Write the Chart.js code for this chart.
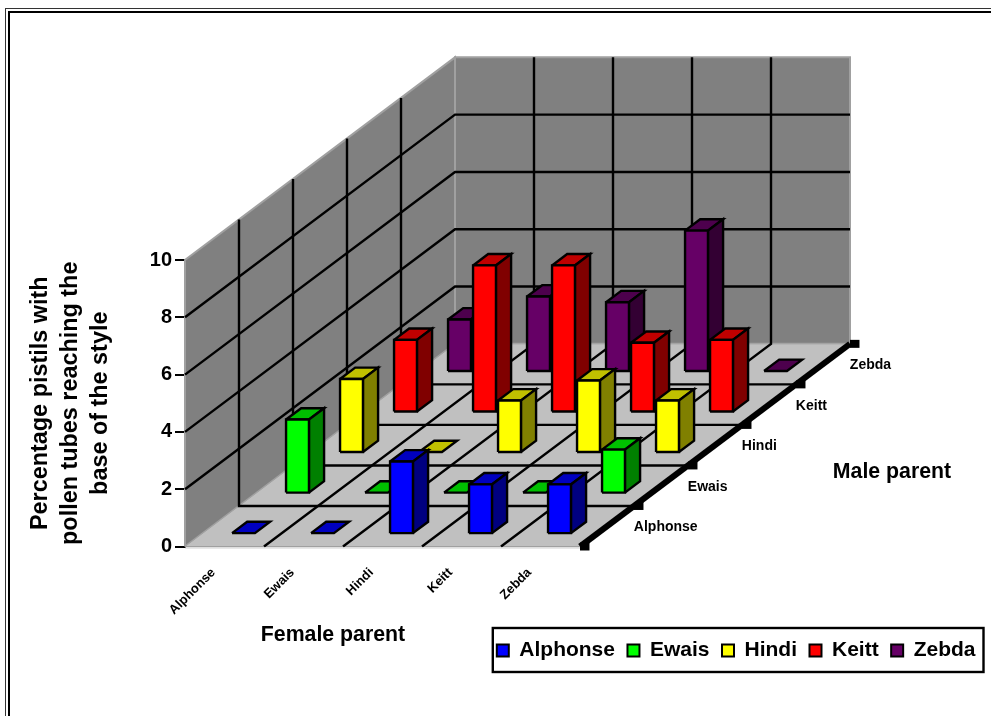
<!DOCTYPE html>
<html>
<head>
<meta charset="utf-8">
<title>Pollen tubes</title>
<script src="https://cdn.jsdelivr.net/npm/chart.js@4"></script>
<style>
html, body { margin: 0; padding: 0; background: #fff; overflow: hidden; }
canvas { display: block; }
</style>
</head>
<body>
<canvas id="chart" width="991" height="716"></canvas>
<script>
// values, one array per male parent, in female parent order
const femaleParents = ["Alphonse", "Ewais", "Hindi", "Keitt", "Zebda"];
const maleParents = ["Alphonse", "Ewais", "Hindi", "Keitt", "Zebda"];
const alphonseValues = [0, 0, 2.5, 1.7, 1.7];
const ewaisValues = [2.55, 0, 0, 0, 1.5];
const hindiValues = [2.55, 0, 1.8, 2.5, 1.8];
const keittValues = [2.5, 5.1, 5.1, 2.4, 2.5];
const zebdaValues = [1.8, 2.6, 2.4, 4.9, 0];
const maleValues = [alphonseValues, ewaisValues, hindiValues, keittValues, zebdaValues];
const yTickStep = 2;
const yMax = 10;

const frontColors = ['#0000FF', '#00FF00', '#FFFF00', '#FF0000', '#660066'];
const topColors = ['#0000C0', '#00C000', '#C0C000', '#C00000', '#4D004D'];
const sideColors = ['#000080', '#008000', '#808000', '#800000', '#330033'];

// oblique projection: one female step = 1 on x, one male step shifts x and y by these
const depthX = 54 / 79;
const depthY = 40.6 / 28.7;
const barLeft = 0.37, barWidth = 0.29;
const barFront = 0.33, barDepth = 0.28;
const xMax = 803 / 79;

function project(f, m, v) {
    return { x: f + m * depthX, y: v + m * depthY };
}

function shape(points, fillColor, lineColor, lineWidth) {
    return {
        data: points,
        showLine: true,
        fill: false,
        shapeFill: fillColor,
        borderColor: lineColor,
        borderWidth: lineWidth,
        pointRadius: 0,
        borderJoinStyle: 'miter',
        clip: false
    };
}

function closed(points, fillColor, lineColor, lineWidth) {
    return shape(points.concat([points[0]]), fillColor, lineColor, lineWidth);
}

function buildDatasets() {
    var out = [];
    var nF = femaleParents.length, nM = maleParents.length;

    // walls and floor
    out.push(closed([project(0, 0, 0), project(0, nM, 0), project(0, nM, yMax), project(0, 0, yMax)], '#808080', '#A0A0A0', 2));
    out.push(closed([project(0, nM, 0), project(nF, nM, 0), project(nF, nM, yMax), project(0, nM, yMax)], '#808080', '#A0A0A0', 2));
    out.push(closed([project(0, 0, 0), project(nF, 0, 0), project(nF, nM, 0), project(0, nM, 0)], '#C0C0C0', '#A0A0A0', 1));

    // grid lines
    for (var v = yTickStep; v < yMax; v += yTickStep) {
        out.push(shape([project(0, 0, v), project(0, nM, v), project(nF, nM, v)], null, '#000', 2.4));
    }
    for (var m = 1; m < nM; m++) {
        out.push(shape([project(0, m, yMax), project(0, m, 0), project(nF, m, 0)], null, '#000', 2.4));
    }
    for (var f = 1; f < nF; f++) {
        out.push(shape([project(f, 0, 0), project(f, nM, 0), project(f, nM, yMax)], null, '#000', 2.4));
    }

    // thick male axis with its tick blocks, pale female axis
    out.push(shape([project(nF, 0, 0), project(nF, nM, 0)], null, '#000', 6));
    for (var t = 0; t <= nM; t++) {
        var p = project(nF, t, 0);
        out.push(shape([p, { x: p.x + 0.12, y: p.y }], null, '#000', 8));
    }
    out.push(shape([project(0, 0, -0.05), project(nF, 0, -0.05)], null, '#C8C8C8', 1));

    // bars, back row first
    for (var j = nM - 1; j >= 0; j--) {
        for (var i = 0; i < nF; i++) {
            var val = maleValues[j][i];
            var x0 = i + barLeft, x1 = x0 + barWidth;
            var m0 = j + barFront, m1 = m0 + barDepth;
            out.push(closed([project(x0, m0, val), project(x1, m0, val), project(x1, m1, val), project(x0, m1, val)], topColors[j], '#000', 2.4));
            if (val > 0) {
                out.push(closed([project(x1, m0, 0), project(x1, m1, 0), project(x1, m1, val), project(x1, m0, val)], sideColors[j], '#000', 2.4));
                out.push(closed([project(x0, m0, 0), project(x1, m0, 0), project(x1, m0, val), project(x0, m0, val)], frontColors[j], '#000', 2.4));
            }
        }
    }
    // chart.js draws the first dataset on top
    return out.reverse();
}

const shapeFillPlugin = {
    id: 'shapeFill',
    beforeDatasetDraw: function (chart, args) {
        var color = chart.data.datasets[args.index].shapeFill;
        if (!color) return;
        var ctx = chart.ctx;
        ctx.save();
        ctx.beginPath();
        args.meta.data.forEach(function (pt, n) {
            if (n === 0) ctx.moveTo(pt.x, pt.y);
            else ctx.lineTo(pt.x, pt.y);
        });
        ctx.closePath();
        ctx.fillStyle = color;
        ctx.fill();
        ctx.restore();
    }
};

const framePlugin = {
    id: 'frame',
    beforeDraw: function (chart) {
        var ctx = chart.ctx;
        ctx.save();
        ctx.fillStyle = '#fff';
        ctx.fillRect(0, 0, chart.width, chart.height);
        ctx.strokeStyle = '#333';
        ctx.lineWidth = 1;
        ctx.strokeRect(5.5, 8.5, 1100, 800);
        ctx.strokeStyle = '#000';
        ctx.lineWidth = 2;
        ctx.strokeRect(9, 12, 1100, 800);
        ctx.restore();
    }
};

const labelsPlugin = {
    id: 'axisLabels',
    afterDraw: function (chart) {
        var ctx = chart.ctx, sx = chart.scales.x, sy = chart.scales.y;
        var nF = femaleParents.length;
        ctx.save();
        ctx.fillStyle = '#000';

        // female parent names, rotated under the floor
        ctx.font = 'bold 13px "Liberation Sans"';
        ctx.textAlign = 'right';
        ctx.textBaseline = 'middle';
        femaleParents.forEach(function (name, i) {
            ctx.save();
            ctx.translate(sx.getPixelForValue(i + 0.36), sy.getPixelForValue(0) + 24);
            ctx.rotate(-Math.PI / 4);
            ctx.fillText(name, 0, 0);
            ctx.restore();
        });

        // male parent names, right of the thick axis
        ctx.font = 'bold 14px "Liberation Sans"';
        ctx.textAlign = 'left';
        maleParents.forEach(function (name, j) {
            var p = project(nF + 0.34, j + 0.5, 0);
            ctx.fillText(name, sx.getPixelForValue(p.x), sy.getPixelForValue(p.y) + 1);
        });

        ctx.font = 'bold 21.3px "Liberation Sans"';
        ctx.textAlign = 'center';
        ctx.fillText('Female parent', 333, 635);
        ctx.fillText('Male parent', 892, 472);

        // box round the legend
        var boxes = chart.legend.legendHitBoxes;
        var first = boxes[0], last = boxes[boxes.length - 1];
        ctx.strokeStyle = '#000';
        ctx.lineWidth = 2.4;
        ctx.strokeRect(first.left - 4, first.top - 12, last.left + last.width - first.left + 12, first.height + 23);
        ctx.restore();
    }
};

Chart.defaults.font.family = '"Liberation Sans", Arial, sans-serif';
Chart.defaults.font.weight = 'bold';
Chart.defaults.color = '#000';

new Chart(document.getElementById('chart').getContext('2d'), {
    type: 'scatter',
    data: { datasets: buildDatasets() },
    plugins: [framePlugin, shapeFillPlugin, labelsPlugin],
    options: {
        responsive: false,
        animation: false,
        events: [],
        layout: { padding: { left: 26, top: 260, right: 3, bottom: 45 } },
        scales: {
            x: {
                type: 'linear',
                min: 0,
                max: xMax,
                afterFit: function (s) { s.height = 81; },
                grid: { display: false },
                border: { display: false },
                ticks: { display: false }
            },
            y: {
                type: 'linear',
                min: 0,
                max: yMax,
                z: 1,
                afterFit: function (s) { s.width = 159; },
                border: { display: true, color: '#000', width: 2 },
                grid: { drawOnChartArea: false, color: '#000', lineWidth: 2, tickLength: 10, tickWidth: 2 },
                ticks: { stepSize: yTickStep, padding: 3, font: { size: 20, weight: 'bold' } },
                title: {
                    display: true,
                    text: ['Percentage pistils with', 'pollen tubes reaching the', 'base of the style'],
                    font: { size: 23.4, weight: 'bold', lineHeight: 1.28 },
                    padding: 0
                }
            }
        },
        plugins: {
            tooltip: { enabled: false },
            legend: {
                display: true,
                position: 'bottom',
                align: 'end',
                labels: {
                    boxWidth: 12,
                    boxHeight: 12,
                    padding: 12.5,
                    font: { size: 21, weight: 'bold' },
                    generateLabels: function () {
                        return maleParents.map(function (name, i) {
                            return { text: name, fillStyle: frontColors[i], strokeStyle: '#000', lineWidth: 2, hidden: false };
                        });
                    }
                }
            }
        }
    }
});
</script>
</body>
</html>
